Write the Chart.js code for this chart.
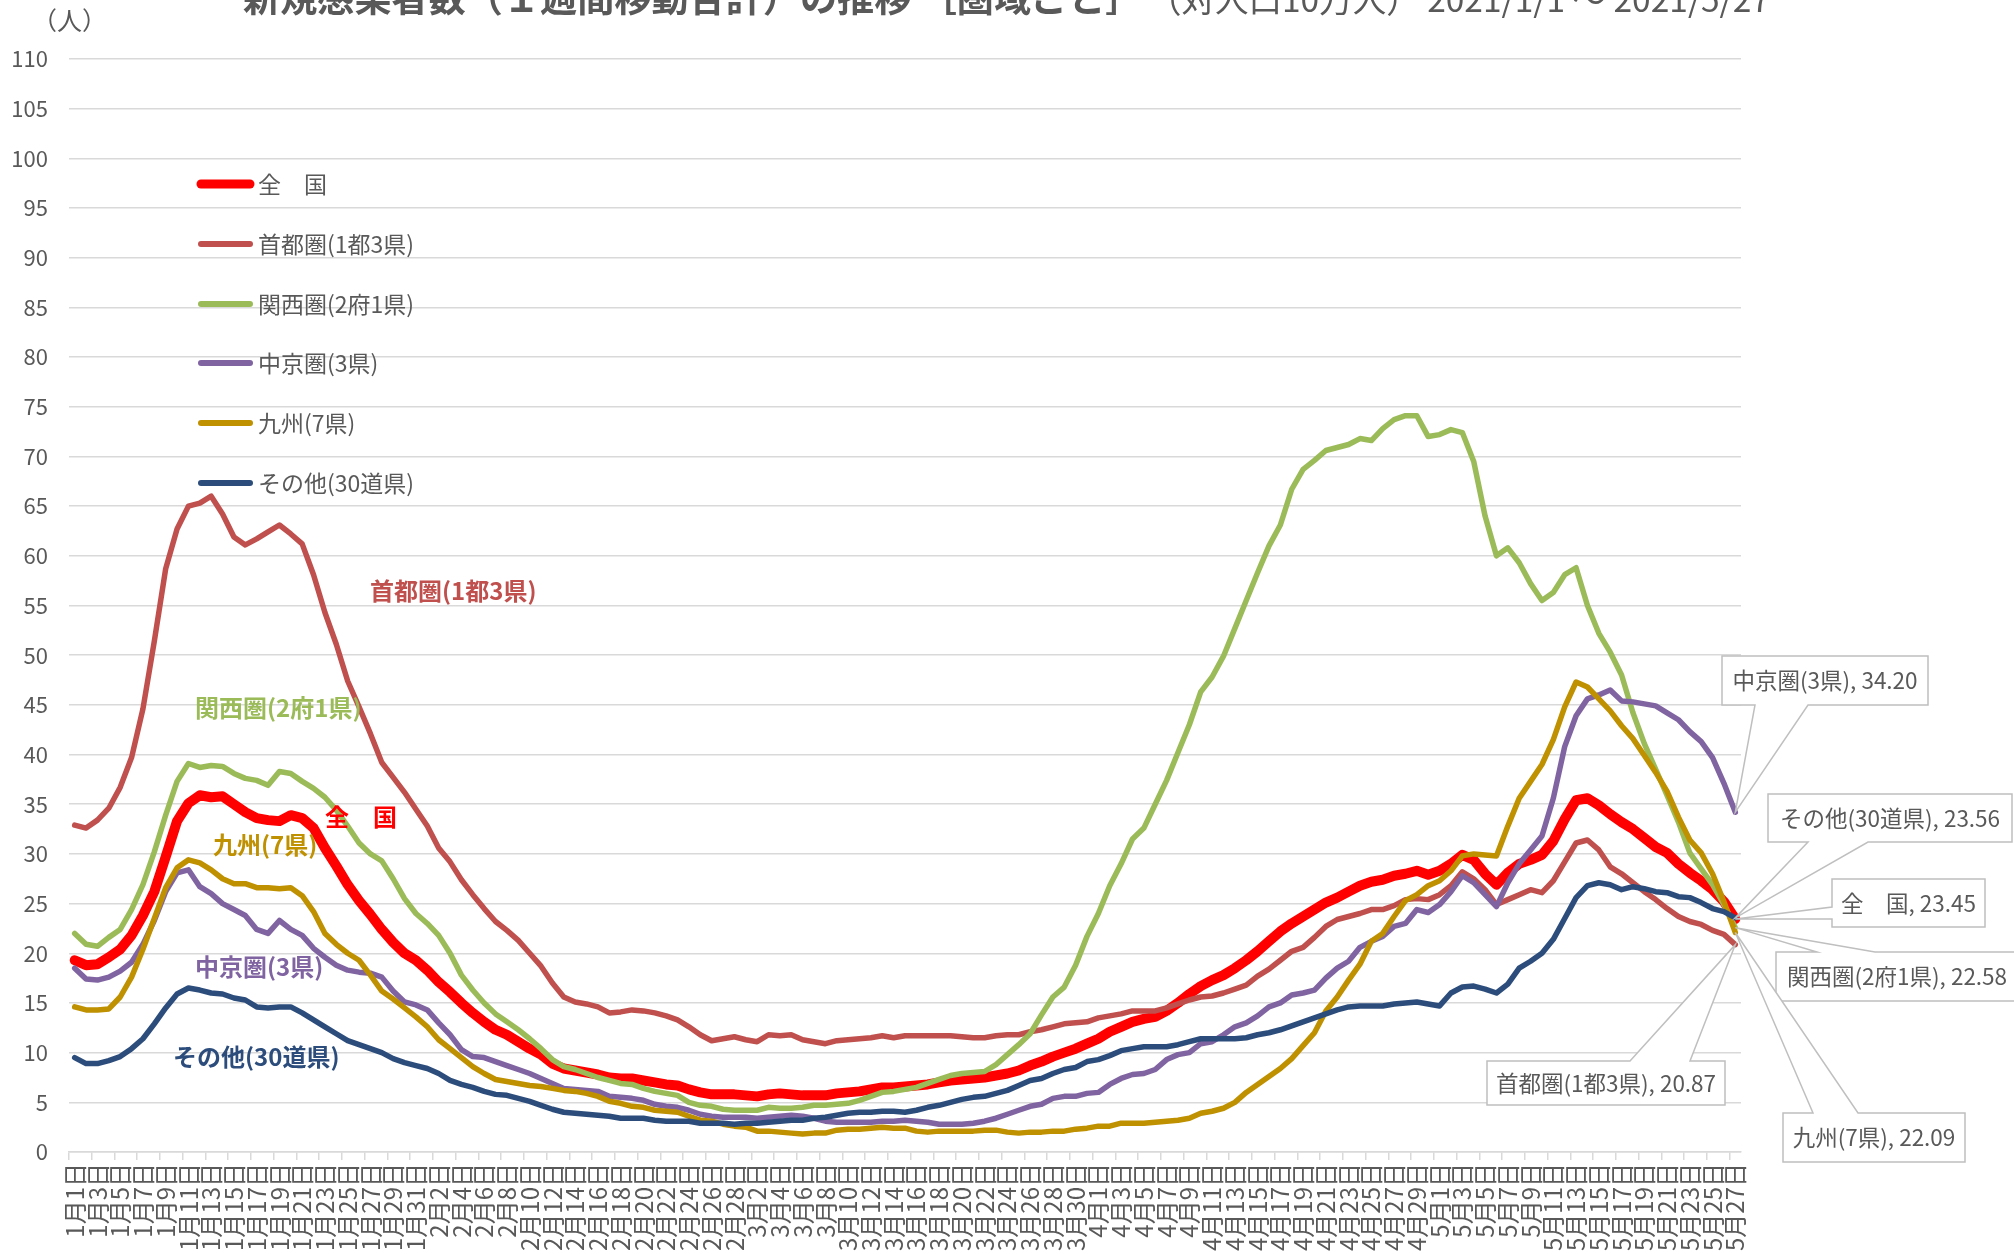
<!DOCTYPE html>
<html>
<head>
<meta charset="utf-8">
<script src="https://cdn.jsdelivr.net/npm/chart.js@4.4.1/dist/chart.umd.min.js"></script>
<style>
html,body{margin:0;padding:0;background:#fff;overflow:hidden;}
#wrap{width:2014px;height:1254px;position:relative;}
canvas{display:block;}
</style>
</head>
<body>
<div id="wrap"><canvas id="c" width="2014" height="1254"></canvas></div>
<script>
// ---- categories (tick labels) ----
const monthNames = ['1月','2月','3月','4月','5月'];
const monthLengths = [31, 28, 31, 30, 27];
const dayLabels = [];
monthLengths.forEach((n, m) => { for (let d = 1; d <= n; d++) dayLabels.push(monthNames[m] + d + '日'); });

const yTicksMin = 0, yTicksMax = 110, yTickStep = 5;

// ---- series names ----
const seriesNames = ['全　国', '首都圏(1都3県)', '関西圏(2府1県)', '中京圏(3県)', '九州(7県)', 'その他(30道県)'];

// ---- series values (per 100k, 7-day moving total) ----
const zenkoku = [
  19.3,18.8,18.9,19.6,20.4,21.8,23.8,26.2,29.7,33.3,35.1,35.9,35.7,35.8,35.0,34.2,33.6,33.4,33.3,33.9,33.6,32.6,30.6,28.8,26.9,25.3,23.9,22.4,21.1,20.0,
  19.3,18.3,17.1,16.1,15.0,14.0,13.1,12.3,11.8,11.1,10.4,9.8,8.9,8.4,8.2,8.0,7.8,7.5,7.4,7.4,7.2,7.0,6.8,6.7,6.3,6.0,5.8,5.8,5.8,5.7,5.6,5.8,5.9,
  5.8,5.7,5.7,5.7,5.9,6.0,6.1,6.3,6.5,6.5,6.6,6.7,6.8,7.0,7.2,7.3,7.4,7.5,7.7,7.9,8.2,8.7,9.1,9.6,10.0,10.4,10.9,11.4,12.1,12.6,13.1,
  13.4,13.6,14.2,15.0,15.9,16.7,17.3,17.8,18.5,19.3,20.2,21.2,22.2,23.0,23.7,24.4,25.1,25.6,26.2,26.8,27.2,27.4,27.8,28.0,28.3,27.9,28.3,29.0,
  29.9,29.4,28.0,26.9,28.1,29.0,29.4,29.9,31.3,33.5,35.4,35.6,34.9,34.0,33.2,32.5,31.6,30.7,30.1,29.0,28.1,27.3,26.4,25.2,23.45
];
const shutoken = [
  32.9,32.6,33.4,34.6,36.7,39.7,44.6,51.4,58.7,62.7,65.0,65.3,66.0,64.2,61.9,61.1,61.7,62.4,63.1,62.2,61.2,58.1,54.3,51.1,47.4,44.8,42.1,39.2,37.7,36.2,
  34.5,32.8,30.6,29.2,27.4,25.9,24.5,23.2,22.3,21.3,20.0,18.7,17.0,15.6,15.1,14.9,14.6,14.0,14.1,14.3,14.2,14.0,13.7,13.3,12.6,11.8,11.2,11.4,11.6,11.3,11.1,11.8,11.7,
  11.8,11.3,11.1,10.9,11.2,11.3,11.4,11.5,11.7,11.5,11.7,11.7,11.7,11.7,11.7,11.6,11.5,11.5,11.7,11.8,11.8,12.1,12.3,12.6,12.9,13.0,13.1,13.5,13.7,13.9,14.2,
  14.2,14.2,14.5,14.9,15.3,15.6,15.7,16.0,16.4,16.8,17.7,18.4,19.3,20.2,20.6,21.6,22.7,23.4,23.7,24.0,24.4,24.4,24.8,25.4,25.5,25.4,25.9,26.8,
  28.2,27.5,26.4,24.9,25.4,25.9,26.4,26.1,27.3,29.2,31.1,31.4,30.4,28.7,28.0,27.1,26.2,25.4,24.5,23.7,23.2,22.9,22.3,21.9,20.87
];
const kansai = [
  22.0,20.9,20.7,21.6,22.4,24.4,26.9,30.2,33.9,37.3,39.1,38.7,38.9,38.8,38.1,37.6,37.4,36.9,38.3,38.1,37.3,36.6,35.7,34.4,32.8,31.1,30.0,29.3,27.5,25.5,
  24.0,23.0,21.8,20.0,17.8,16.3,15.0,13.9,13.1,12.3,11.4,10.4,9.3,8.6,8.3,7.9,7.5,7.2,6.9,6.8,6.4,6.1,5.9,5.7,5.0,4.7,4.6,4.3,4.2,4.2,4.2,4.5,4.4,
  4.4,4.5,4.7,4.7,4.8,4.9,5.2,5.6,6.0,6.1,6.3,6.5,6.9,7.3,7.7,7.9,8.0,8.1,8.8,9.8,10.8,11.9,13.8,15.6,16.6,18.8,21.7,24.0,26.8,29.0,31.5,
  32.6,35.0,37.4,40.2,43.0,46.3,47.8,49.9,52.7,55.5,58.3,61.0,63.1,66.7,68.7,69.6,70.6,70.9,71.2,71.8,71.6,72.8,73.7,74.1,74.1,72.0,72.2,72.7,
  72.4,69.5,64.0,60.0,60.8,59.3,57.2,55.5,56.3,58.1,58.8,55.0,52.2,50.3,48.0,44.2,41.1,38.5,35.9,33.2,30.1,28.5,26.9,24.9,22.58
];
const chukyo = [
  18.5,17.4,17.3,17.6,18.2,19.1,20.9,23.3,26.2,28.1,28.4,26.7,26.0,25.0,24.4,23.8,22.4,22.0,23.3,22.4,21.8,20.5,19.6,18.8,18.3,18.1,18.0,17.6,16.2,15.1,
  14.8,14.3,13.0,11.8,10.3,9.6,9.5,9.1,8.7,8.3,7.9,7.4,6.9,6.4,6.3,6.2,6.1,5.6,5.5,5.4,5.2,4.8,4.6,4.5,4.2,3.8,3.6,3.5,3.5,3.5,3.4,3.5,3.6,
  3.7,3.6,3.4,3.1,3.0,3.0,3.0,3.0,3.1,3.1,3.2,3.1,3.0,2.8,2.8,2.8,2.9,3.1,3.4,3.8,4.2,4.6,4.8,5.4,5.6,5.6,5.9,6.0,6.8,7.4,7.8,
  7.9,8.3,9.3,9.8,10.0,10.9,11.1,11.8,12.6,13.0,13.7,14.6,15.0,15.8,16.0,16.3,17.5,18.5,19.2,20.6,21.2,21.7,22.7,23.0,24.4,24.1,24.9,26.2,
  27.8,27.1,25.9,24.7,27.1,29.0,30.4,31.8,35.6,40.8,43.9,45.6,46.0,46.5,45.4,45.3,45.1,44.9,44.2,43.5,42.3,41.3,39.7,37.1,34.20
];
const kyushu = [
  14.6,14.3,14.3,14.4,15.6,17.6,20.4,23.5,26.6,28.6,29.4,29.1,28.4,27.5,27.0,27.0,26.6,26.6,26.5,26.6,25.8,24.2,22.0,20.9,20.0,19.3,17.8,16.2,15.4,14.5,
  13.6,12.6,11.3,10.4,9.5,8.6,7.9,7.3,7.1,6.9,6.7,6.6,6.4,6.2,6.1,5.9,5.6,5.1,4.9,4.6,4.5,4.2,4.1,4.0,3.6,3.2,3.1,2.8,2.6,2.5,2.1,2.1,2.0,
  1.9,1.8,1.9,1.9,2.2,2.3,2.3,2.4,2.5,2.4,2.4,2.1,2.0,2.1,2.1,2.1,2.1,2.2,2.2,2.0,1.9,2.0,2.0,2.1,2.1,2.3,2.4,2.6,2.6,2.9,2.9,
  2.9,3.0,3.1,3.2,3.4,3.9,4.1,4.4,5.0,6.0,6.8,7.6,8.4,9.4,10.7,12.0,14.2,15.6,17.3,18.9,21.2,22.0,23.7,25.3,25.9,26.8,27.3,28.3,
  29.8,30.0,29.9,29.8,32.8,35.6,37.3,39.0,41.5,44.8,47.3,46.8,45.6,44.4,42.9,41.6,39.9,38.2,36.3,33.7,31.4,30.1,28.0,25.2,22.09
];
const sonota = [
  9.5,8.9,8.9,9.2,9.6,10.4,11.4,12.9,14.5,15.9,16.5,16.3,16.0,15.9,15.5,15.3,14.6,14.5,14.6,14.6,14.0,13.3,12.6,11.9,11.2,10.8,10.4,10.0,9.4,9.0,
  8.7,8.4,7.9,7.2,6.8,6.5,6.1,5.8,5.7,5.4,5.1,4.7,4.3,4.0,3.9,3.8,3.7,3.6,3.4,3.4,3.4,3.2,3.1,3.1,3.1,2.9,2.9,2.9,2.8,2.9,2.9,3.0,3.1,
  3.2,3.2,3.4,3.5,3.7,3.9,4.0,4.0,4.1,4.1,4.0,4.2,4.5,4.7,5.0,5.3,5.5,5.6,5.9,6.2,6.7,7.2,7.4,7.9,8.3,8.5,9.1,9.3,9.7,10.2,10.4,
  10.6,10.6,10.6,10.8,11.1,11.4,11.4,11.4,11.4,11.5,11.8,12.0,12.3,12.7,13.1,13.5,13.9,14.3,14.6,14.7,14.7,14.7,14.9,15.0,15.1,14.9,14.7,16.0,
  16.6,16.7,16.4,16.0,16.9,18.5,19.2,20.0,21.4,23.5,25.6,26.8,27.1,26.9,26.4,26.7,26.5,26.2,26.1,25.7,25.6,25.1,24.5,24.2,23.56
];

const seriesValues = [zenkoku, shutoken, kansai, chukyo, kyushu, sonota];
seriesValues.forEach((a, i) => { if (a.length !== dayLabels.length) throw new Error(seriesNames[i] + ' length ' + a.length); });

// ---- styles ----
const seriesColors = ['#FF0000', '#C0504D', '#9BBB59', '#8064A2', '#BF9000', '#2C4D7C'];
const seriesWidths = [10, 5.5, 5.5, 5.5, 5.5, 5.5];
const FONT = '"Noto Sans CJK JP", "Noto Sans", sans-serif';
const GRAY = '#595959';
const GRID = '#d9d9d9';

// ---- annotation layout (pixels) ----
const legendRows = [184, 244, 304, 363, 423, 483];
const inlineLabels = [
  { ds: 1, x: 370, y: 591 },
  { ds: 2, x: 195, y: 708 },
  { ds: 0, x: 325, y: 817 },
  { ds: 4, x: 213, y: 845 },
  { ds: 3, x: 195, y: 967 },
  { ds: 5, x: 173, y: 1057 }
];
const callouts = [
  { ds: 3, box: [1722, 656, 1928, 705], side: 'bottom', base: [1755, 1808] },
  { ds: 5, box: [1768, 794, 2012, 842], side: 'bottom', base: [1808, 1868] },
  { ds: 0, box: [1832, 879, 1985, 927], side: 'left', base: [907, 919] },
  { ds: 2, box: [1776, 952, 2040, 1001], side: 'top', base: [1817, 1875], tx: 1897 },
  { ds: 4, box: [1783, 1113, 1965, 1162], side: 'top', base: [1813, 1858] },
  { ds: 1, box: [1487, 1061, 1725, 1105], side: 'top', base: [1630, 1690] }
];

function fitSize(ctx, text, weight, width) {
  ctx.font = weight + ' 100px ' + FONT;
  return 100 * width / ctx.measureText(text).width;
}

const decor = {
  id: 'decor',
  afterDraw(chart) {
    const ctx = chart.ctx;
    ctx.save();
    // title (cut at top like the reference)
    const t1 = '新規感染者数（１週間移動合計）の推移 ［圏域ごと］';
    const t2 = '（対人口10万人） 2021/1/1 ～ 2021/5/27';
    ctx.fillStyle = GRAY;
    ctx.textAlign = 'left';
    ctx.textBaseline = 'alphabetic';
    const s1 = fitSize(ctx, t1, 'bold', 900);
    ctx.font = 'bold ' + s1 + 'px ' + FONT;
    ctx.fillText(t1, 243, 12);
    const s2 = fitSize(ctx, t2, 'normal', 622);
    ctx.font = 'normal ' + s2 + 'px ' + FONT;
    ctx.fillText(t2, 1148, 12);
    // unit
    ctx.font = '25px ' + FONT;
    ctx.textBaseline = 'middle';
    ctx.fillText('（人）', 32, 20);

    // legend
    seriesNames.forEach((name, i) => {
      const y = legendRows[i];
      ctx.strokeStyle = seriesColors[i];
      ctx.lineWidth = i === 0 ? 9 : 6;
      ctx.lineCap = 'round';
      ctx.beginPath(); ctx.moveTo(201, y); ctx.lineTo(250, y); ctx.stroke();
      ctx.fillStyle = GRAY;
      ctx.font = '23px ' + FONT;
      ctx.textAlign = 'left';
      ctx.textBaseline = 'middle';
      ctx.fillText(name, 258, y);
    });

    // inline series labels
    inlineLabels.forEach(l => {
      ctx.fillStyle = seriesColors[l.ds];
      ctx.font = 'bold 24px ' + FONT;
      ctx.textAlign = 'left';
      ctx.textBaseline = 'middle';
      ctx.fillText(seriesNames[l.ds], l.x, l.y);
    });

    // callouts for last values
    callouts.forEach(c => {
      const meta = chart.getDatasetMeta(c.ds);
      const pt = meta.data[meta.data.length - 1];
      const [x1, y1, x2, y2] = c.box;
      const [b1, b2] = c.base;
      ctx.beginPath();
      if (c.side === 'bottom') {
        ctx.moveTo(x1, y1); ctx.lineTo(x2, y1); ctx.lineTo(x2, y2);
        ctx.lineTo(b2, y2); ctx.lineTo(pt.x, pt.y); ctx.lineTo(b1, y2); ctx.lineTo(x1, y2);
      } else if (c.side === 'top') {
        ctx.moveTo(x1, y1); ctx.lineTo(b1, y1); ctx.lineTo(pt.x, pt.y); ctx.lineTo(b2, y1);
        ctx.lineTo(x2, y1); ctx.lineTo(x2, y2); ctx.lineTo(x1, y2);
      } else {
        ctx.moveTo(x1, y1); ctx.lineTo(x2, y1); ctx.lineTo(x2, y2); ctx.lineTo(x1, y2);
        ctx.lineTo(x1, b2); ctx.lineTo(pt.x, pt.y); ctx.lineTo(x1, b1);
      }
      ctx.closePath();
      ctx.fillStyle = '#ffffff';
      ctx.fill();
      ctx.strokeStyle = '#bfbfbf';
      ctx.lineWidth = 1.5;
      ctx.lineJoin = 'miter';
      ctx.stroke();
      const vals = seriesValues[c.ds];
      const txt = seriesNames[c.ds] + ', ' + vals[vals.length - 1].toFixed(2);
      ctx.fillStyle = GRAY;
      ctx.font = '22.5px ' + FONT;
      ctx.textAlign = 'center';
      ctx.textBaseline = 'middle';
      ctx.fillText(txt, c.tx !== undefined ? c.tx : (x1 + x2) / 2, (y1 + y2) / 2);
    });
    ctx.restore();
  }
};

const datasets = seriesNames.map((name, i) => ({
  label: name,
  data: seriesValues[i],
  borderColor: seriesColors[i],
  backgroundColor: seriesColors[i],
  borderWidth: seriesWidths[i],
  pointRadius: 0,
  pointHoverRadius: 0,
  tension: 0,
  fill: false,
  borderJoinStyle: 'round',
  borderCapStyle: 'round',
  order: seriesNames.length - i
}));

new Chart(document.getElementById('c'), {
  type: 'line',
  data: { labels: dayLabels, datasets },
  options: {
    responsive: false,
    animation: false,
    devicePixelRatio: 1,
    layout: { padding: { left: 0, right: 273, top: 59, bottom: 0 } },
    plugins: { legend: { display: false }, tooltip: { enabled: false }, title: { display: false } },
    scales: {
      x: {
        type: 'category',
        offset: true,
        grid: {
          offset: true,
          drawOnChartArea: false,
          drawTicks: true,
          tickLength: 8,
          lineWidth: 1.5,
          color: c => (c.index % 2 === 0 ? GRID : 'rgba(0,0,0,0)')
        },
        border: { display: true, color: GRID, width: 1.5 },
        ticks: {
          autoSkip: false,
          maxRotation: 90,
          minRotation: 90,
          padding: 3,
          color: GRAY,
          font: { family: FONT, size: 24 },
          callback: (v, i) => (i % 2 === 0 ? dayLabels[i] : '')
        },
        afterFit: s => { s.height = 102; }
      },
      y: {
        min: yTicksMin,
        max: yTicksMax,
        ticks: { stepSize: yTickStep, padding: 21, color: GRAY, font: { family: FONT, size: 22 } },
        grid: { color: GRID, lineWidth: 1.5, drawTicks: false },
        border: { display: false },
        afterFit: s => { s.width = 69; }
      }
    }
  },
  plugins: [decor]
});
</script>
</body>
</html>
